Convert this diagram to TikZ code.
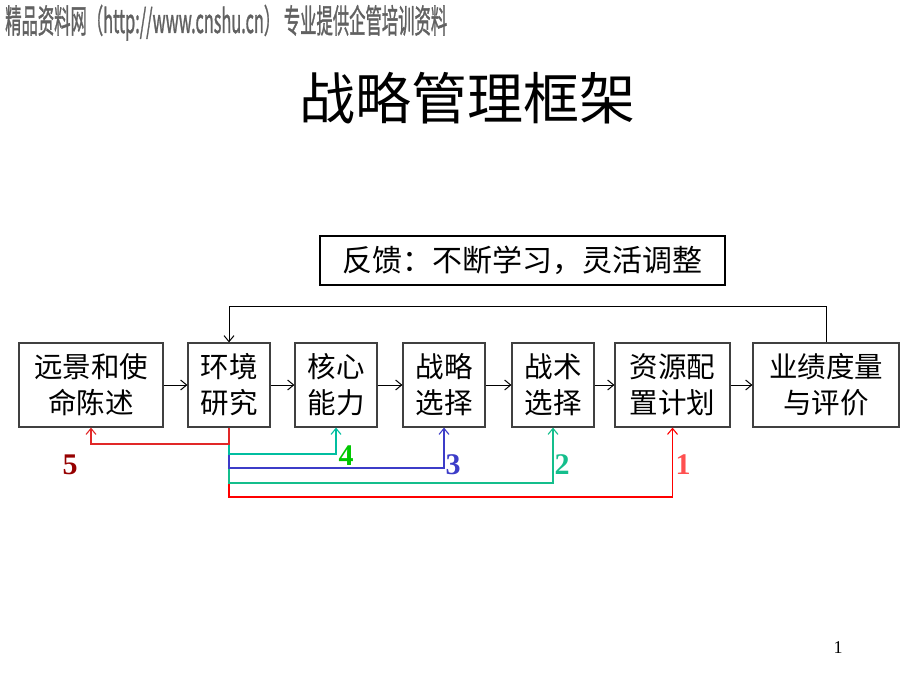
\documentclass[tikz,border=0pt]{standalone}
\usepackage{fontspec}
\setmainfont{Liberation Serif}
\newfontfamily\cjk{Noto Sans CJK SC}
\newfontfamily\cjkhead[FakeBold=1.5]{Noto Sans CJK SC}
\usetikzlibrary{arrows.meta,positioning}

\definecolor{red5}{RGB}{150,0,0}
\definecolor{line5}{RGB}{225,40,40}
\definecolor{line4}{RGB}{0,190,160}
\definecolor{green4}{RGB}{0,200,0}
\definecolor{blue3}{RGB}{60,60,200}
\definecolor{teal2}{RGB}{20,190,140}
\definecolor{red1}{RGB}{255,0,0}
\definecolor{pink1}{RGB}{255,80,80}

\begin{document}
\begin{tikzpicture}[x=1pt,y=-1pt,
  stage/.style={draw=black!75,line width=1.2pt,minimum height=84pt,inner sep=0pt,
    align=center,font=\cjk\fontsize{28.5}{36}\selectfont},
  flow/.style={-{Straight Barb[length=6pt,width=10pt]},line width=1pt},
  back/.style={-{Straight Barb[length=6pt,width=10pt]},line width=1.1pt},
  num/.style={font=\fontsize{30}{30}\selectfont\bfseries}]
\useasboundingbox (0,0) rectangle (920,690);

% header and title
\node[anchor=base west,inner sep=0pt,text=black!62] (site) at (5,33)
  {\resizebox{442pt}{\height}{\cjkhead\fontsize{33}{33}\selectfont 精品资料网（http://www.cnshu.cn） 专业提供企管培训资料}};
\node[font=\cjk\fontsize{56}{56}\selectfont] (title) at (467,98) {战略管理框架};
\node[draw,line width=1.2pt,minimum width=405pt,minimum height=49pt,inner sep=0pt,
  font=\cjk\fontsize{30}{30}\selectfont] (learn) at (522.5,260.5) {反馈：不断学习，灵活调整};

% stages
\node[stage,minimum width=144pt] (b1) at (91,385) {远景和使\\命陈述};
\node[stage,minimum width=82pt] (b2) at (229,385) {环境\\研究};
\node[stage,minimum width=82pt] (b3) at (336,385) {核心\\能力};
\node[stage,minimum width=82pt] (b4) at (444,385) {战略\\选择};
\node[stage,minimum width=82pt] (b5) at (553,385) {战术\\选择};
\node[stage,minimum width=115pt] (b6) at (672.5,385) {资源配\\置计划};
\node[stage,minimum width=146pt] (b7) at (826,385) {业绩度量\\与评价};

\foreach \a/\b in {b1/b2,b2/b3,b3/b4,b4/b5,b5/b6,b6/b7}
  \draw[flow] (\a) -- (\b);

% feedback loop
\coordinate (top) at (826,306);
\draw[flow] (b7.north) -- (top) -| (b2.north);

% rails below
\coordinate (r5) at (229,444);
\coordinate (r4) at (229,454);
\coordinate (r3) at (229,468);
\coordinate (r2) at (229,483);
\coordinate (r1) at (229,497);
\draw[back,red1] (b2.south) -- (r1) -| (b6.south);
\draw[back,teal2] (b2.south) -- (r2) -| (b5.south);
\draw[back,blue3] (b2.south) -- (r3) -| (b4.south);
\draw[back,line4] (b2.south) -- (r4) -| (b3.south);
\draw[back,line5] (b2.south) -- (r5) -| (b1.south);

\node[num,text=red5] (n5) at (70,465) {5};
\node[num,text=green4] (n4) at (346,456) {4};
\node[num,text=blue3] (n3) at (453,465) {3};
\node[num,text=teal2] (n2) at (562,465) {2};
\node[num,text=pink1] (n1) at (683,465) {1};

\node[font=\fontsize{18}{18}\selectfont] (page) at (838,648) {1};
\end{tikzpicture}
\end{document}
